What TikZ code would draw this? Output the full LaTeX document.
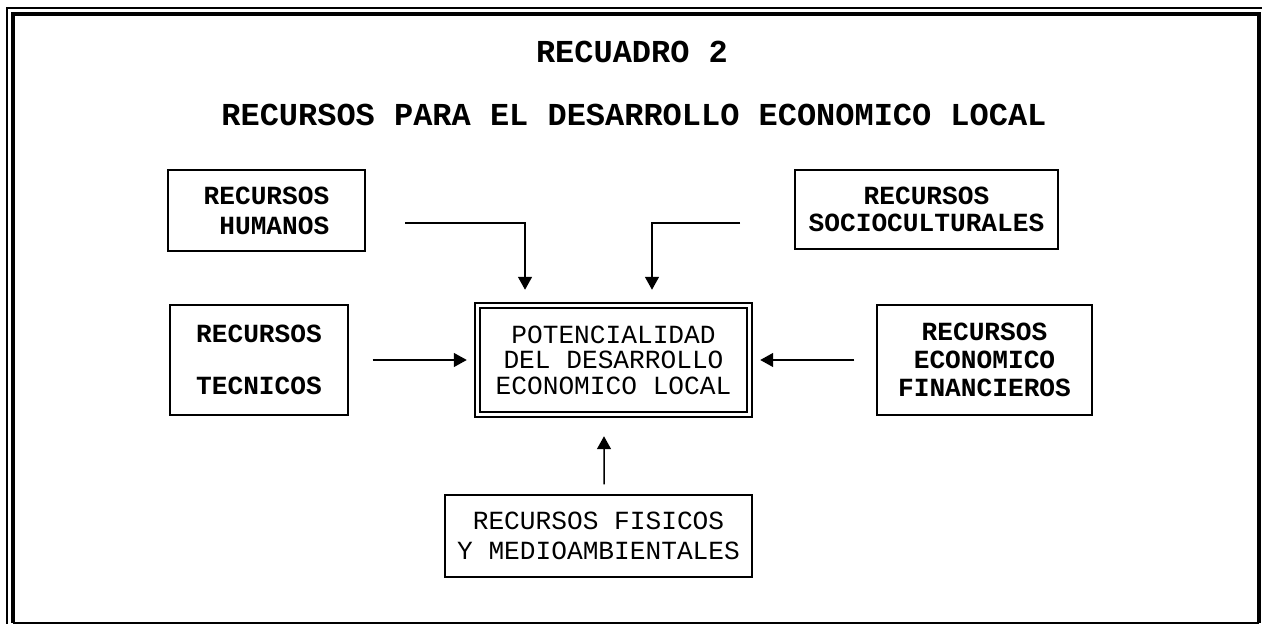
\documentclass[tikz,border=0pt]{standalone}
\usepackage{fontspec}
\setmonofont{Liberation Mono}
\usetikzlibrary{positioning,arrows.meta}
\tikzset{
	every picture/.style={/utils/exec={\ttfamily}},
	every node/.style = {inner sep = 0},
	box/.style={draw, line width=0.03cm, align=center, font=\fontsize{14.9}{16}\selectfont\bfseries},
	mainbox/.style={box, double, double distance=0.07cm, font=\fontsize{14.9}{16}\selectfont},
	heading/.style={font=\fontsize{18.2}{20}\selectfont\bfseries},
	flow/.style={-{Triangle[length=0.26cm,width=0.28cm]}, line width=0.03cm},
	frame/.style={line width=0.07cm}
}

\begin{document}
\begin{tikzpicture}[x=0.02cm, y=-0.02cm]
		\useasboundingbox (0,0) rectangle (1262,624);
		% outer frame
		\draw[frame] (13,623) |- (1259,14) -- (1259,623);
		\draw[line width=0.04cm] (13,623) -- (1259,623);
		\draw[line width=0.05cm] (7,624) |- (1262,8);
		
		\node(caption)[heading] at (632,52) {RECUADRO 2};
		\node(title)[heading] at (634,115) {RECURSOS PARA EL DESARROLLO ECONOMICO LOCAL};
		
		\node(centre)[mainbox, minimum width=5.44cm, minimum height=2.18cm] at (613.5,360) {POTENCIALIDAD\\[-1.5pt]DEL DESARROLLO\\[-1.5pt]ECONOMICO LOCAL};
		\node(humanos)[box, minimum width=3.94cm, minimum height=1.62cm] at (266.5,210.5) {RECURSOS\\[1pt]~HUMANOS};
		\node(socio)[box, minimum width=5.26cm, minimum height=1.58cm] at (926.5,209.5) {RECURSOS\\[-1pt]SOCIOCULTURALES};
		\node(tecnicos)[box, minimum width=3.56cm, minimum height=2.2cm] at (259,360) {RECURSOS\\[14pt]TECNICOS};
		\node(financieros)[box, minimum width=4.3cm, minimum height=2.2cm] at (984.5,360) {RECURSOS\\[0pt]ECONOMICO\\[0pt]FINANCIEROS};
		\node(fisicos)[box, font=\fontsize{14.9}{16}\selectfont, minimum width=6.14cm, minimum height=1.64cm] at (598.5,536) {RECURSOS FISICOS\\[1.5pt]Y MEDIOAMBIENTALES};
		
		\coordinate(hum-out) at (405,223);
		\coordinate(soc-out) at (740,223);
		
		\draw[flow, shorten >=0.3cm] (hum-out) -| ([xshift=-1.77cm]centre.north);
		\draw[flow, shorten >=0.3cm] (soc-out) -| ([xshift=0.77cm]centre.north);
		\draw[flow, shorten <=0.48cm, shorten >=0.2cm] (tecnicos) -- (centre);
		\draw[flow, shorten <=0.44cm, shorten >=0.2cm] (financieros) -- (centre);
		\draw[flow, shorten <=0.2cm, shorten >=0.42cm] ([xshift=0.11cm]fisicos.north) -- ([xshift=-0.19cm]centre.south);
\end{tikzpicture}
\end{document}
